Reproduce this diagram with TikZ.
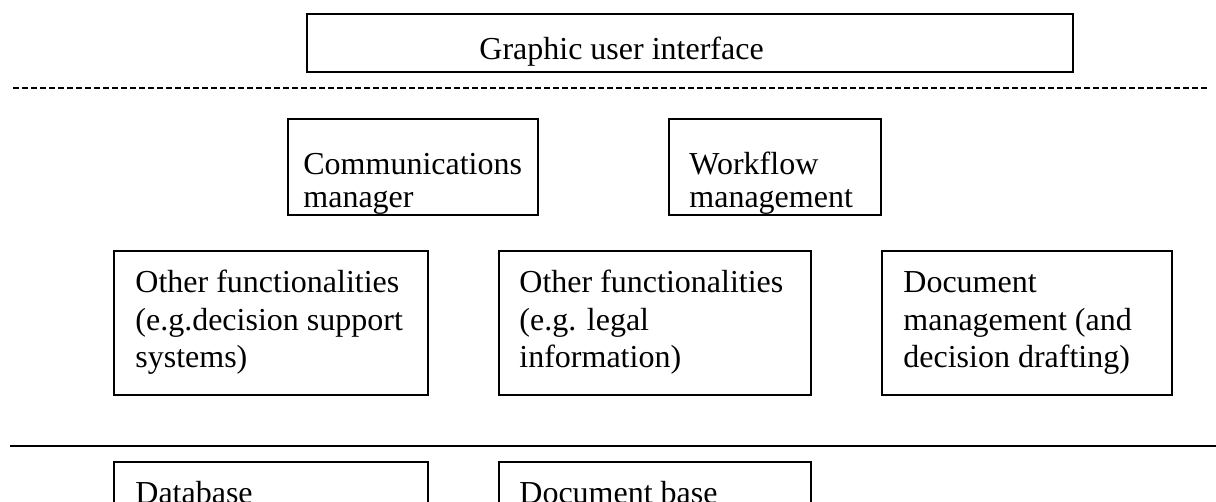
\documentclass[tikz,border=0pt]{standalone}
\usepackage{fontspec}
\setmainfont{Liberation Serif}
\begin{document}
\begin{tikzpicture}
[x=0.5pt,y=-0.5pt,
 bx/.style={draw,line width=0.9pt,anchor=north west,inner sep=0pt},
 tx/.style={anchor=base west,align=left,inner sep=0pt,font=\fontsize{16}{18.5}\selectfont},
 txs/.style={tx,font=\fontsize{16}{16.5}\selectfont},
 sep/.style={line width=1pt}]
\useasboundingbox (0,0) rectangle (1216,502);
\clip (0,0) rectangle (1216,502);
% boxes
\node [bx,minimum width=383pt,minimum height=29pt] at (306,13) (gui) {};
\node [bx,minimum width=125pt,minimum height=48pt] at (287,118) (comm) {};
\node [bx,minimum width=106pt,minimum height=48pt] at (668,118) (work) {};
\node [bx,minimum width=157pt,minimum height=72pt] at (113,250) (oth1) {};
\node [bx,minimum width=156pt,minimum height=72pt] at (498,250) (oth2) {};
\node [bx,minimum width=145pt,minimum height=72pt] at (881,250) (docm) {};
\node [bx,minimum width=157pt,minimum height=60pt] at (113,461) (db) {};
\node [bx,minimum width=156pt,minimum height=60pt] at (498,461) (docb) {};

% texts (base = last line)
\node [tx] at (479,60) (guit) {Graphic user interface};
\node [txs] at (303,208) (commt) {Communications\\manager};
\node [txs] at (689,208) (workt) {Workflow\\management};
\node [tx] at (135,367) (oth1t) {Other functionalities\\(e.g.decision support\\systems)};
\node [tx] at (519,367) (oth2t) {Other functionalities\\(e.g. legal\\information)};
\node [tx] at (903,367) (docmt) {Document\\management (and\\decision drafting)};
\node [tx] at (135,503) (dbt) {Database};
\node [tx] at (519,503) (docbt) {Document base};

% layer lines
\coordinate (dl) at (13,88);
\coordinate (dr) at (1207,88);
\coordinate (sl) at (10,446);
\coordinate (sr) at (1216,446);
\draw [sep,line width=0.75pt,dash pattern=on 3pt off 1.5pt] (dl) -- (dr);
\draw [sep] (sl) -- (sr);
\end{tikzpicture}
\end{document}
